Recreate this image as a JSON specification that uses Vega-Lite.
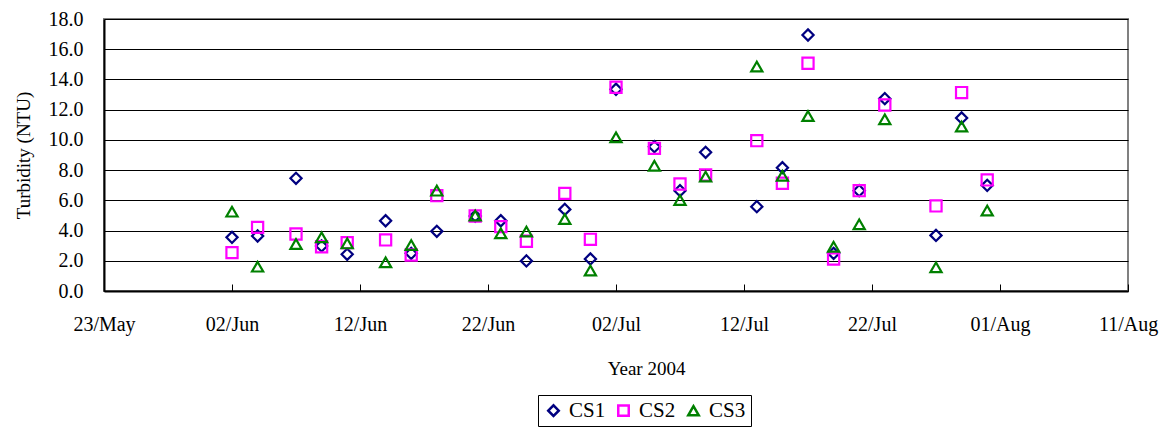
{
  "$schema": "https://vega.github.io/schema/vega-lite/v6.json",
  "width": 1024,
  "height": 272,
  "autosize": "none",
  "padding": {"left": 104, "top": 19, "right": 45, "bottom": 137},
  "background": "white",
  "config": {
    "font": "Liberation Serif",
    "axis": {"labelFont": "Liberation Serif", "titleFont": "Liberation Serif"},
    "legend": {"labelFont": "Liberation Serif", "titleFont": "Liberation Serif"},
    "view": {"stroke": "#808080", "strokeWidth": 2}
  },
  "data": {
    "values": [
      {"date": "2004-06-02", "series": "CS1", "value": 3.55},
      {"date": "2004-06-04", "series": "CS1", "value": 3.64},
      {"date": "2004-06-07", "series": "CS1", "value": 7.46},
      {"date": "2004-06-09", "series": "CS1", "value": 2.98},
      {"date": "2004-06-11", "series": "CS1", "value": 2.43},
      {"date": "2004-06-14", "series": "CS1", "value": 4.65},
      {"date": "2004-06-16", "series": "CS1", "value": 2.49},
      {"date": "2004-06-18", "series": "CS1", "value": 3.95},
      {"date": "2004-06-21", "series": "CS1", "value": 4.96},
      {"date": "2004-06-23", "series": "CS1", "value": 4.65},
      {"date": "2004-06-25", "series": "CS1", "value": 1.99},
      {"date": "2004-06-28", "series": "CS1", "value": 5.40},
      {"date": "2004-06-30", "series": "CS1", "value": 2.12},
      {"date": "2004-07-02", "series": "CS1", "value": 13.35},
      {"date": "2004-07-05", "series": "CS1", "value": 9.55},
      {"date": "2004-07-07", "series": "CS1", "value": 6.64},
      {"date": "2004-07-09", "series": "CS1", "value": 9.18},
      {"date": "2004-07-13", "series": "CS1", "value": 5.58},
      {"date": "2004-07-15", "series": "CS1", "value": 8.16},
      {"date": "2004-07-17", "series": "CS1", "value": 16.94},
      {"date": "2004-07-19", "series": "CS1", "value": 2.49},
      {"date": "2004-07-21", "series": "CS1", "value": 6.64},
      {"date": "2004-07-23", "series": "CS1", "value": 12.73},
      {"date": "2004-07-27", "series": "CS1", "value": 3.68},
      {"date": "2004-07-29", "series": "CS1", "value": 11.45},
      {"date": "2004-07-31", "series": "CS1", "value": 6.99},
      {"date": "2004-06-02", "series": "CS2", "value": 2.54},
      {"date": "2004-06-04", "series": "CS2", "value": 4.21},
      {"date": "2004-06-07", "series": "CS2", "value": 3.77},
      {"date": "2004-06-09", "series": "CS2", "value": 2.93},
      {"date": "2004-06-11", "series": "CS2", "value": 3.20},
      {"date": "2004-06-14", "series": "CS2", "value": 3.38},
      {"date": "2004-06-16", "series": "CS2", "value": 2.38},
      {"date": "2004-06-18", "series": "CS2", "value": 6.31},
      {"date": "2004-06-21", "series": "CS2", "value": 4.96},
      {"date": "2004-06-23", "series": "CS2", "value": 4.26},
      {"date": "2004-06-25", "series": "CS2", "value": 3.29},
      {"date": "2004-06-28", "series": "CS2", "value": 6.46},
      {"date": "2004-06-30", "series": "CS2", "value": 3.42},
      {"date": "2004-07-02", "series": "CS2", "value": 13.48},
      {"date": "2004-07-05", "series": "CS2", "value": 9.44},
      {"date": "2004-07-07", "series": "CS2", "value": 7.08},
      {"date": "2004-07-09", "series": "CS2", "value": 7.68},
      {"date": "2004-07-13", "series": "CS2", "value": 9.95},
      {"date": "2004-07-15", "series": "CS2", "value": 7.13},
      {"date": "2004-07-17", "series": "CS2", "value": 15.07},
      {"date": "2004-07-19", "series": "CS2", "value": 2.12},
      {"date": "2004-07-21", "series": "CS2", "value": 6.64},
      {"date": "2004-07-23", "series": "CS2", "value": 12.31},
      {"date": "2004-07-27", "series": "CS2", "value": 5.63},
      {"date": "2004-07-29", "series": "CS2", "value": 13.13},
      {"date": "2004-07-31", "series": "CS2", "value": 7.35},
      {"date": "2004-06-02", "series": "CS3", "value": 5.25},
      {"date": "2004-06-04", "series": "CS3", "value": 1.61},
      {"date": "2004-06-07", "series": "CS3", "value": 3.11},
      {"date": "2004-06-09", "series": "CS3", "value": 3.55},
      {"date": "2004-06-11", "series": "CS3", "value": 3.15},
      {"date": "2004-06-14", "series": "CS3", "value": 1.90},
      {"date": "2004-06-16", "series": "CS3", "value": 3.04},
      {"date": "2004-06-18", "series": "CS3", "value": 6.64},
      {"date": "2004-06-21", "series": "CS3", "value": 4.99},
      {"date": "2004-06-23", "series": "CS3", "value": 3.82},
      {"date": "2004-06-25", "series": "CS3", "value": 3.93},
      {"date": "2004-06-28", "series": "CS3", "value": 4.76},
      {"date": "2004-06-30", "series": "CS3", "value": 1.35},
      {"date": "2004-07-02", "series": "CS3", "value": 10.17},
      {"date": "2004-07-05", "series": "CS3", "value": 8.29},
      {"date": "2004-07-07", "series": "CS3", "value": 6.02},
      {"date": "2004-07-09", "series": "CS3", "value": 7.57},
      {"date": "2004-07-13", "series": "CS3", "value": 14.85},
      {"date": "2004-07-15", "series": "CS3", "value": 7.63},
      {"date": "2004-07-17", "series": "CS3", "value": 11.58},
      {"date": "2004-07-19", "series": "CS3", "value": 2.93},
      {"date": "2004-07-21", "series": "CS3", "value": 4.41},
      {"date": "2004-07-23", "series": "CS3", "value": 11.36},
      {"date": "2004-07-27", "series": "CS3", "value": 1.57},
      {"date": "2004-07-29", "series": "CS3", "value": 10.88},
      {"date": "2004-07-31", "series": "CS3", "value": 5.32}
    ]
  },
  "mark": {"type": "point", "filled": false, "strokeWidth": 2.2, "size": 125, "opacity": 1},
  "encoding": {
    "x": {
      "field": "date",
      "type": "temporal",
      "scale": {
        "type": "utc",
        "domain": [
          {"year": 2004, "month": 5, "date": 23, "utc": true},
          {"year": 2004, "month": 8, "date": 11, "utc": true}
        ],
        "nice": false
      },
      "axis": {
        "values": [
          {"year": 2004, "month": 5, "date": 23, "utc": true},
          {"year": 2004, "month": 6, "date": 2, "utc": true},
          {"year": 2004, "month": 6, "date": 12, "utc": true},
          {"year": 2004, "month": 6, "date": 22, "utc": true},
          {"year": 2004, "month": 7, "date": 2, "utc": true},
          {"year": 2004, "month": 7, "date": 12, "utc": true},
          {"year": 2004, "month": 7, "date": 22, "utc": true},
          {"year": 2004, "month": 8, "date": 1, "utc": true},
          {"year": 2004, "month": 8, "date": 11, "utc": true}
        ],
        "format": "%d/%b",
        "grid": false,
        "domainColor": "black",
        "domainWidth": 2,
        "tickColor": "black",
        "tickWidth": 1,
        "tickSize": -7,
        "labelPadding": 46,
        "labelBaseline": "alphabetic",
        "labelFlush": false,
        "labelOverlap": false,
        "labelFont": "Liberation Serif",
        "labelFontSize": 20,
        "labelColor": "black",
        "title": "Year 2004",
        "titleFont": "Liberation Serif",
        "titleFontSize": 19,
        "titleFontWeight": "normal",
        "titleColor": "black",
        "titleX": 542,
        "titleY": 83,
        "titleAlign": "center",
        "titleBaseline": "alphabetic"
      }
    },
    "y": {
      "field": "value",
      "type": "quantitative",
      "scale": {"domain": [0, 18], "nice": false, "zero": true},
      "axis": {
        "values": [0, 2, 4, 6, 8, 10, 12, 14, 16, 18],
        "format": ".1f",
        "grid": true,
        "gridColor": "black",
        "gridWidth": 1,
        "gridOpacity": 1,
        "ticks": false,
        "domainColor": "black",
        "domainWidth": 2,
        "labelPadding": 21,
        "labelFont": "Liberation Serif",
        "labelFontSize": 20,
        "labelColor": "black",
        "labelBaseline": "middle",
        "labelFlush": false,
        "labelOverlap": false,
        "title": "Turbidity (NTU)",
        "titleFont": "Liberation Serif",
        "titleFontSize": 19,
        "titleFontWeight": "normal",
        "titleColor": "black",
        "titleAngle": -90,
        "titleX": -75,
        "titleY": 136,
        "titleAlign": "center",
        "titleBaseline": "alphabetic"
      }
    },
    "color": {
      "field": "series",
      "type": "nominal",
      "scale": {"domain": ["CS1", "CS2", "CS3"], "range": ["#000080", "#FF00FF", "#008000"]},
      "legend": {
        "orient": "none",
        "legendX": 434,
        "legendY": 376,
        "direction": "horizontal",
        "title": null,
        "strokeColor": "black",
        "fillColor": "white",
        "padding": 5,
        "labelFont": "Liberation Serif",
        "labelFontSize": 21,
        "labelColor": "black",
        "labelOffset": 5,
        "columnPadding": 7,
        "symbolSize": 110,
        "symbolStrokeWidth": 2.5
      }
    },
    "shape": {
      "field": "series",
      "type": "nominal",
      "scale": {"domain": ["CS1", "CS2", "CS3"], "range": ["diamond", "square", "triangle-up"]}
    }
  }
}
